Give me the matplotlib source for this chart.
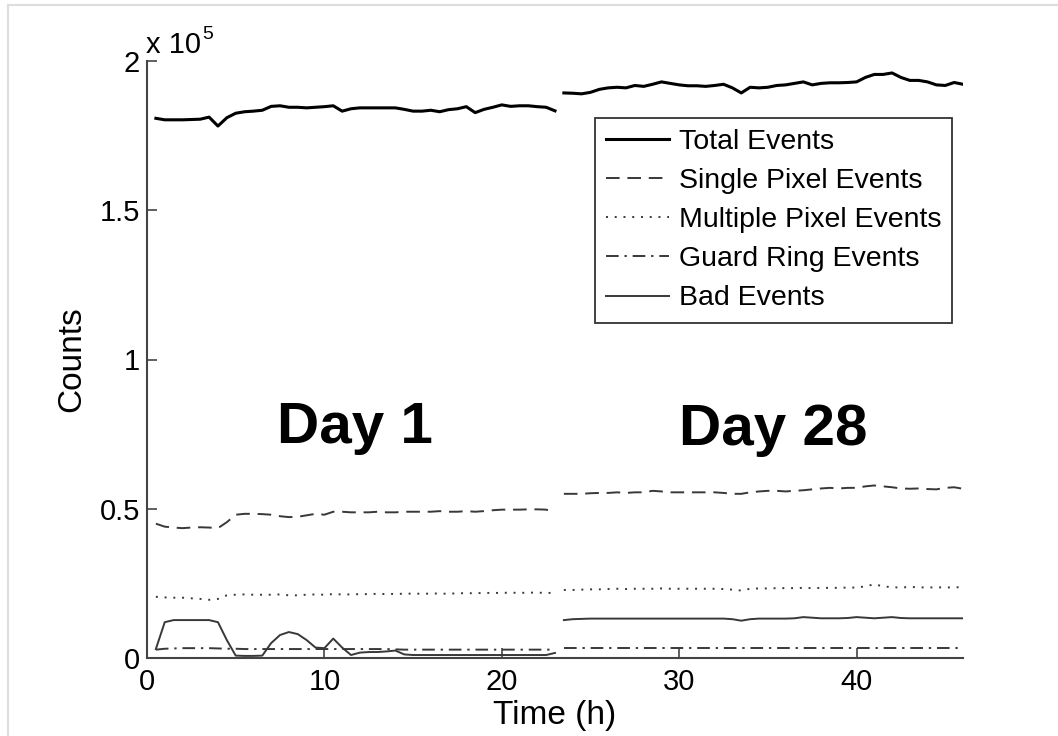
import numpy as np
import matplotlib
matplotlib.use("Agg")
import matplotlib.pyplot as plt
from matplotlib.lines import Line2D

plt.rcParams['font.family'] = ['Liberation Sans', 'DejaVu Sans']

# time (h), day 1 run and day 28 run
t1 = [0.5, 1, 1.5, 2, 2.5, 3, 3.5, 4, 4.5, 5, 5.5, 6, 6.5, 7, 7.5, 8, 8.5, 9, 9.5, 10,
      10.5, 11, 11.5, 12, 12.5, 13, 13.5, 14, 14.5, 15, 15.5, 16, 16.5, 17, 17.5, 18,
      18.5, 19, 19.5, 20, 20.5, 21, 21.5, 22, 22.5, 23]
t2 = [23.5, 24, 24.5, 25, 25.5, 26, 26.5, 27, 27.5, 28, 28.5, 29, 29.5, 30, 30.5, 31,
      31.5, 32, 32.5, 33, 33.5, 34, 34.5, 35, 35.5, 36, 36.5, 37, 37.5, 38, 38.5, 39,
      39.5, 40, 40.5, 41, 41.5, 42, 42.5, 43, 43.5, 44, 44.5, 45, 45.5, 46]

# counts in units of 1e5
total1 = [1.808, 1.803, 1.803, 1.803, 1.804, 1.805, 1.812, 1.782, 1.81, 1.825, 1.83, 1.832,
          1.835, 1.848, 1.85, 1.845, 1.845, 1.843, 1.845, 1.847, 1.85, 1.832, 1.84, 1.843,
          1.843, 1.843, 1.843, 1.843, 1.838, 1.832, 1.832, 1.835, 1.83, 1.837, 1.84, 1.847,
          1.827, 1.838, 1.845, 1.853, 1.848, 1.85, 1.85, 1.847, 1.845, 1.833]
total2 = [1.893, 1.892, 1.89, 1.895, 1.905, 1.91, 1.912, 1.91, 1.918, 1.915, 1.922, 1.93,
          1.925, 1.92, 1.917, 1.917, 1.915, 1.918, 1.922, 1.91, 1.893, 1.912, 1.91, 1.912,
          1.918, 1.92, 1.925, 1.93, 1.92, 1.925, 1.927, 1.927, 1.928, 1.93, 1.945, 1.955,
          1.955, 1.96, 1.945, 1.935, 1.935, 1.93, 1.92, 1.918, 1.928, 1.922]

single1 = [0.45, 0.44, 0.437, 0.435, 0.437, 0.438, 0.437, 0.435, 0.455, 0.48, 0.483, 0.483,
           0.482, 0.48, 0.475, 0.472, 0.473, 0.478, 0.483, 0.48, 0.49, 0.49, 0.488, 0.488,
           0.488, 0.49, 0.488, 0.488, 0.49, 0.49, 0.49, 0.49, 0.492, 0.49, 0.49, 0.492,
           0.49, 0.492, 0.495, 0.497, 0.497, 0.497, 0.498, 0.498, 0.497, 0.487]
single2 = [0.55, 0.55, 0.55, 0.552, 0.553, 0.553, 0.555, 0.553, 0.555, 0.555, 0.56, 0.558,
           0.555, 0.555, 0.555, 0.555, 0.555, 0.555, 0.553, 0.55, 0.55, 0.555, 0.558, 0.56,
           0.56, 0.558, 0.56, 0.562, 0.565, 0.568, 0.57, 0.568, 0.57, 0.57, 0.575, 0.578,
           0.575, 0.572, 0.568, 0.567, 0.568, 0.566, 0.565, 0.57, 0.572, 0.567]

multi1 = [0.205, 0.203, 0.202, 0.202, 0.2, 0.198, 0.195, 0.198, 0.21, 0.212, 0.213, 0.212,
          0.212, 0.212, 0.213, 0.21, 0.21, 0.212, 0.213, 0.212, 0.214, 0.213, 0.213, 0.214,
          0.214, 0.215, 0.214, 0.215, 0.215, 0.216, 0.215, 0.216, 0.216, 0.215, 0.217, 0.217,
          0.217, 0.218, 0.218, 0.218, 0.219, 0.218, 0.219, 0.219, 0.218, 0.218]
multi2 = [0.228, 0.228, 0.229, 0.23, 0.23, 0.231, 0.232, 0.231, 0.232, 0.232, 0.232, 0.233,
          0.232, 0.232, 0.232, 0.232, 0.232, 0.232, 0.231, 0.229, 0.226, 0.232, 0.233, 0.233,
          0.234, 0.234, 0.234, 0.235, 0.234, 0.235, 0.235, 0.235, 0.236, 0.236, 0.24, 0.247,
          0.24, 0.237, 0.236, 0.238, 0.237, 0.236, 0.237, 0.236, 0.237, 0.237]

guard1 = [0.028, 0.031, 0.032, 0.033, 0.033, 0.033, 0.033, 0.032, 0.031, 0.031, 0.03, 0.03,
          0.03, 0.03, 0.03, 0.03, 0.03, 0.03, 0.03, 0.03, 0.03, 0.03, 0.03, 0.03,
          0.03, 0.03, 0.03, 0.029, 0.028, 0.028, 0.028, 0.028, 0.028, 0.028, 0.028, 0.028,
          0.028, 0.028, 0.028, 0.028, 0.028, 0.028, 0.028, 0.028, 0.028, 0.028]
guard2 = [0.033, 0.033, 0.033, 0.033, 0.033, 0.033, 0.033, 0.033, 0.033, 0.033, 0.033, 0.033,
          0.033, 0.033, 0.033, 0.033, 0.033, 0.033, 0.033, 0.033, 0.033, 0.033, 0.033, 0.033,
          0.033, 0.033, 0.033, 0.033, 0.033, 0.033, 0.033, 0.033, 0.033, 0.033, 0.033, 0.033,
          0.033, 0.033, 0.033, 0.033, 0.033, 0.033, 0.033, 0.033, 0.033, 0.033]

bad1 = [0.03, 0.12, 0.127, 0.127, 0.127, 0.127, 0.127, 0.12, 0.06, 0.008, 0.007, 0.007,
        0.008, 0.05, 0.077, 0.087, 0.08, 0.06, 0.035, 0.033, 0.065, 0.035, 0.01, 0.018,
        0.02, 0.02, 0.022, 0.025, 0.012, 0.01, 0.01, 0.01, 0.01, 0.01, 0.01, 0.01,
        0.01, 0.01, 0.01, 0.01, 0.01, 0.01, 0.01, 0.01, 0.01, 0.017]
bad2 = [0.127, 0.13, 0.131, 0.132, 0.132, 0.132, 0.132, 0.132, 0.132, 0.132, 0.132, 0.132,
        0.132, 0.132, 0.132, 0.132, 0.132, 0.132, 0.132, 0.13, 0.125, 0.13, 0.132, 0.132,
        0.132, 0.132, 0.133, 0.137, 0.135, 0.133, 0.133, 0.133, 0.134, 0.137, 0.135, 0.133,
        0.135, 0.137, 0.134, 0.133, 0.133, 0.133, 0.133, 0.133, 0.133, 0.133]

grey = '#383838'
dash = (7, 4)
dot = (1, 3.5)
dashdot = (6.5, 3, 1.2, 3)

fig = plt.figure(figsize=(10.58, 7.36), dpi=100)
ax = fig.add_axes([147/1058, 1 - 658/736, (963 - 147)/1058, (658 - 61)/736])

ax.plot(t1, total1, color='black', lw=2.2, label='Total Events')
ax.plot(t1, single1, color=grey, lw=1.4, ls='--', dashes=dash, label='Single Pixel Events')
ax.plot(t1, multi1, color=grey, lw=1.4, ls=':', dashes=dot, label='Multiple Pixel Events')
ax.plot(t1, guard1, color=grey, lw=1.4, ls='-.', dashes=dashdot, label='Guard Ring Events')
ax.plot(t1, bad1, color=grey, lw=1.4, label='Bad Events')

ax.plot(t2, total2, color='black', lw=2.2)
ax.plot(t2, single2, color=grey, lw=1.4, ls='--', dashes=dash)
ax.plot(t2, multi2, color=grey, lw=1.4, ls=':', dashes=dot)
ax.plot(t2, guard2, color=grey, lw=1.4, ls='-.', dashes=dashdot)
ax.plot(t2, bad2, color=grey, lw=1.4)

ax.set_xlim(0, 46)
ax.set_ylim(0, 2)
ax.set_xticks([0, 10, 20, 30, 40])
ax.set_yticks([0, 0.5, 1, 1.5, 2])
ax.set_yticklabels(['0', '0.5', '1', '1.5', '2'])

for side in ['top', 'right']:
    ax.spines[side].set_visible(False)
for side in ['left', 'bottom']:
    ax.spines[side].set_color('#444444')
    ax.spines[side].set_linewidth(1.5)
ax.tick_params(direction='in', length=7, width=1.2, color='#444444', labelsize=21)
ax.tick_params(axis='x', pad=7)
ax.tick_params(axis='y', pad=5)

ax.set_xlabel('Time (h)', fontsize=24, labelpad=3)
ax.set_ylabel('Counts', fontsize=24, labelpad=9)

ax.annotate('x 10', xy=(0, 1), xycoords='axes fraction', xytext=(-1, 6),
            textcoords='offset points', fontsize=21, ha='left', va='baseline')
ax.annotate('5', xy=(0, 1), xycoords='axes fraction', xytext=(40, 16),
            textcoords='offset points', fontsize=14, ha='left', va='baseline')

ax.text(11.7, 0.72, 'Day 1', fontsize=42, fontweight='bold', ha='center', va='baseline')
ax.text(35.3, 0.713, 'Day 28', fontsize=42, fontweight='bold', ha='center', va='baseline')

leg = ax.legend(loc='upper right', bbox_to_anchor=(0.987, 0.905), fontsize=20.5,
                fancybox=False, framealpha=1, edgecolor='#333333',
                handlelength=2.2, handletextpad=0.35, labelspacing=0.46,
                borderpad=0.4, borderaxespad=0)
leg.get_frame().set_linewidth(1.3)

# faint frame of the exported picture
fig.add_artist(Line2D([8/1058, 1], [1 - 5/736, 1 - 5/736], color='#dddddd', lw=1.5))
fig.add_artist(Line2D([8/1058, 8/1058], [0, 1 - 5/736], color='#dddddd', lw=1.5))

fig.savefig('out.png', dpi=100)
